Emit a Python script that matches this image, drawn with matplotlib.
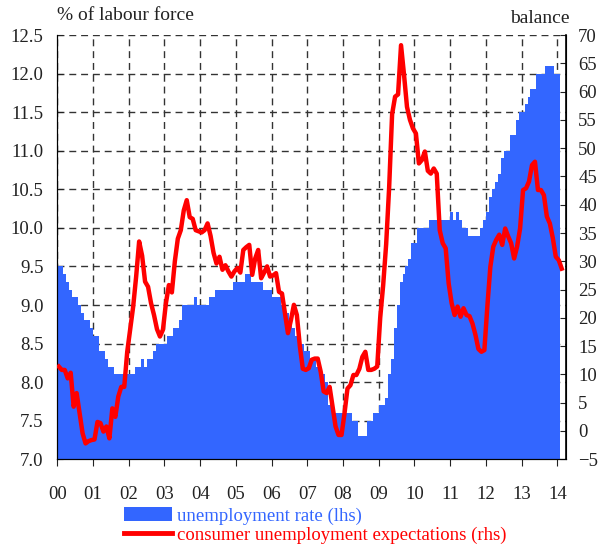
import numpy as np
import matplotlib
matplotlib.use('Agg')
import matplotlib.pyplot as plt
from matplotlib.patches import Patch
from matplotlib.lines import Line2D

# euro area unemployment rate, % of labour force, monthly Jan 2000 - Jan 2014
unemp = [
    9.5, 9.5, 9.4, 9.3, 9.2, 9.1, 9.1, 9.0, 8.9, 8.8, 8.8, 8.7,          # 2000
    8.6, 8.6, 8.4, 8.4, 8.3, 8.2, 8.2, 8.1, 8.1, 8.1, 8.1, 8.1,          # 2001
    8.1, 8.1, 8.2, 8.2, 8.3, 8.2, 8.3, 8.3, 8.4, 8.5, 8.5, 8.5,          # 2002
    8.5, 8.6, 8.6, 8.7, 8.7, 8.8, 9.0, 9.0, 9.0, 9.0, 9.1, 9.0,          # 2003
    9.0, 9.0, 9.0, 9.1, 9.1, 9.2, 9.2, 9.2, 9.2, 9.2, 9.2, 9.3,          # 2004
    9.3, 9.3, 9.3, 9.4, 9.4, 9.3, 9.3, 9.3, 9.3, 9.2, 9.2, 9.2,          # 2005
    9.1, 9.1, 9.1, 9.0, 8.9, 8.9, 8.8, 8.7, 8.6, 8.6, 8.5, 8.4,          # 2006
    8.4, 8.3, 8.3, 8.2, 8.1, 8.1, 8.0, 7.7, 7.7, 7.6, 7.6, 7.6,          # 2007
    7.6, 7.6, 7.6, 7.5, 7.5, 7.3, 7.3, 7.3, 7.5, 7.5, 7.6, 7.6,          # 2008
    7.7, 7.7, 7.8, 8.1, 8.3, 8.7, 9.0, 9.3, 9.4, 9.5, 9.6, 9.8,          # 2009
    9.8, 10.0, 10.0, 10.0, 10.0, 10.1, 10.1, 10.1, 10.1, 10.1, 10.1, 10.1,  # 2010
    10.2, 10.1, 10.2, 10.1, 10.0, 10.0, 9.9, 9.9, 9.9, 9.9, 10.0, 10.1,     # 2011
    10.2, 10.4, 10.5, 10.6, 10.7, 10.9, 11.0, 11.0, 11.2, 11.2, 11.4, 11.5, # 2012
    11.5, 11.6, 11.7, 11.8, 11.8, 12.0, 12.0, 12.0, 12.1, 12.1, 12.1, 12.0, # 2013
    12.0,                                                                   # 2014
]

# consumer unemployment expectations, balance, monthly Jan 2000 - Feb 2014
expect = [
    11.4, 10.8, 10.8, 9.3, 10.3, 4.3, 6.7, 3.1, -0.4, -2.2, -1.8, -1.6,       # 2000
    -1.5, 1.6, 1.4, -0.1, 0.8, -1.3, 4.0, 2.5, 6.1, 7.8, 7.8, 14.0,           # 2001
    18.0, 22.0, 27.3, 33.5, 31.0, 26.4, 25.5, 22.6, 20.5, 18.0, 16.7, 17.9,   # 2002
    22.6, 25.8, 24.5, 30.0, 34.0, 35.5, 39.0, 40.8, 37.8, 37.5, 35.5, 35.3,   # 2003
    35.1, 35.5, 36.7, 34.5, 31.5, 29.6, 30.8, 28.5, 29.3, 28.2, 27.3, 28.2,   # 2004
    28.8, 28.0, 32.0, 32.5, 32.9, 27.6, 30.5, 32.0, 27.0, 28.0, 29.1, 27.3,   # 2005
    27.5, 27.9, 24.6, 24.3, 20.8, 17.3, 19.6, 22.3, 20.5, 15.0, 11.0, 10.8,   # 2006
    11.1, 12.6, 12.8, 12.8, 10.5, 7.0, 6.7, 7.8, 4.3, 0.8, -0.7, -0.7,        # 2007
    3.1, 7.5, 8.1, 9.9, 9.9, 11.0, 13.1, 14.0, 10.8, 10.8, 11.0, 11.4,        # 2008
    20.0, 25.8, 33.0, 43.0, 56.0, 59.1, 59.5, 68.2, 63.0, 57.3, 55.0, 53.5,   # 2009
    52.6, 47.3, 47.9, 49.4, 46.0, 45.5, 46.4, 45.5, 35.5, 33.2, 32.3, 26.1,   # 2010
    22.6, 20.5, 22.0, 20.2, 21.7, 20.5, 20.3, 19.0, 17.0, 14.5, 14.0, 14.3,   # 2011
    22.0, 29.0, 32.6, 33.8, 34.7, 32.9, 35.8, 34.4, 33.2, 30.5, 32.6, 35.8,   # 2012
    42.6, 42.9, 44.1, 47.0, 47.6, 42.6, 42.6, 41.7, 37.9, 36.7, 34.1, 30.8,   # 2013
    30.2, 28.7,                                                               # 2014
]

year_labels = ['00', '01', '02', '03', '04', '05', '06', '07',
               '08', '09', '10', '11', '12', '13', '14']

BLUE = '#3366ff'
RED = '#ff0000'
plt.rcParams['font.family'] = ['Liberation Serif', 'DejaVu Serif']
plt.rcParams['font.size'] = 13
plt.rcParams['text.color'] = '#222222'

fig = plt.figure(figsize=(6.14, 5.48), dpi=100)
ax = fig.add_axes([0.0933, 0.1619, 0.828, 0.7742])

# bars: one per month, edge to edge
x_bar = np.arange(len(unemp)) / 12.0
ax.bar(x_bar, np.array(unemp) - 7.0, bottom=7.0, width=1 / 12.0, align='edge',
       color=BLUE, linewidth=0, zorder=2)
ax.set_ylim(7.0, 12.5)
ax.set_yticks(np.arange(7.0, 12.51, 0.5))
ax.set_yticklabels(['%.1f' % v for v in np.arange(7.0, 12.51, 0.5)])
ax.set_xlim(0, 14.235)
ax.set_xticks(range(15))
ax.set_xticklabels(year_labels)
ax.set_axisbelow(True)
ax.grid(True, color='#333333', linestyle=(0, (5, 3.5)), linewidth=1.0, zorder=0)
ax.tick_params(axis='y', direction='in', length=4, pad=10, colors='#222222',
               labelsize=13.5)
ax.tick_params(axis='x', direction='out', length=5, pad=14, colors='#222222',
               labelsize=13.5)
ax.spines['top'].set_visible(False)

ax2 = ax.twinx()
x_line = (np.arange(len(expect)) + 0.5) / 12.0
ax2.plot(x_line, expect, color=RED, linewidth=3.2, solid_joinstyle='round', zorder=3)
ax2.set_ylim(-5, 70)
ax2.set_yticks(range(-5, 71, 5))
ax2.tick_params(axis='y', direction='in', length=4, pad=9, colors='#222222',
                labelsize=13.5)
ax2.spines['top'].set_visible(False)
ax2.spines['right'].set_linewidth(1.2)
ax.set_xlim(0, 14.235)

fig.text(0.093, 0.972, '% of labour force', ha='left', va='center', fontsize=14)
fig.text(0.927, 0.966, 'balance', ha='right', va='center', fontsize=14)

handles = [Patch(facecolor=BLUE, edgecolor='none'),
           Line2D([0], [0], color=RED, linewidth=3.5)]
leg = fig.legend(handles, ['unemployment rate (lhs)',
                           'consumer unemployment expectations (rhs)'],
                 loc='upper left', bbox_to_anchor=(0.186, 0.092),
                 frameon=False, handlelength=2.6, handleheight=0.8,
                 handletextpad=0.25, labelspacing=0.1, borderpad=0,
                 fontsize=13.5, labelcolor=[BLUE, RED])

fig.savefig('out.png', dpi=100)
